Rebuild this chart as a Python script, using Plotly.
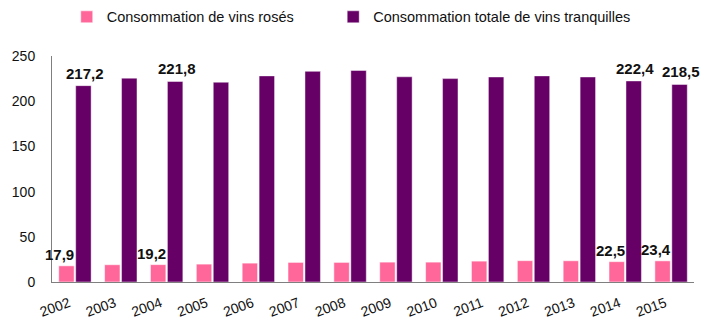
import plotly.graph_objects as go

years = ["2002", "2003", "2004", "2005", "2006", "2007", "2008",
         "2009", "2010", "2011", "2012", "2013", "2014", "2015"]
roses = [17.9, 19.1, 19.2, 19.8, 20.9, 21.7, 21.7, 22.0, 22.0, 23.1, 23.6, 23.5, 22.5, 23.4]
tranquilles = [217.2, 225.5, 221.8, 221.0, 228.0, 233.0, 234.0, 227.0, 225.0, 226.8, 228.0, 226.8, 222.4, 218.5]
labelled_years = ["2002", "2004", "2014", "2015"]
y_ticks = [0, 50, 100, 150, 200, 250]


def fmt(v):
    return f"{v:.1f}".replace(".", ",")


font_family = "Liberation Sans, Arial, sans-serif"

fig = go.Figure()
fig.add_trace(go.Bar(
    x=years, y=roses, name="Consommation de vins rosés", legend="legend",
    marker=dict(color="#FF6699", line=dict(color="rgba(255,255,255,0.55)", width=1)),
))
fig.add_trace(go.Bar(
    x=years, y=tranquilles, name="Consommation totale de vins tranquilles", legend="legend2",
    marker=dict(color="#660066", line=dict(color="rgba(255,255,255,0.45)", width=1)),
))

label_font = dict(family=font_family, size=15, color="#111111", weight="bold")
for i, (y, vr, vt) in enumerate(zip(years, roses, tranquilles)):
    if y in labelled_years:
        fig.add_annotation(x=i, y=vr, text=fmt(vr), showarrow=False, xanchor="center",
                           yanchor="bottom", xshift=-15, yshift=1, font=label_font)
        fig.add_annotation(x=i, y=vt, text=fmt(vt), showarrow=False, xanchor="center",
                           yanchor="bottom", xshift=10, yshift=2, font=label_font)

legend_common = dict(
    orientation="h", y=1.173, xanchor="left", yanchor="middle",
    font=dict(family=font_family, size=14.5, color="#111111"),
    itemwidth=30, bgcolor="rgba(0,0,0,0)",
)

fig.update_layout(
    width=714, height=319,
    margin=dict(l=44, r=28, t=48, b=45, autoexpand=False),
    paper_bgcolor="white", plot_bgcolor="white",
    barmode="group", bargap=0.26, bargroupgap=0.09,
    font=dict(family=font_family, size=14, color="#222222"),
    showlegend=True,
    legend=dict(x=0.023, **legend_common),
    legend2=dict(x=0.438, **legend_common),
    xaxis=dict(
        type="category", range=[-0.5, len(years) - 0.5], autorange=False,
        tickangle=-20, showline=True, linecolor="#7f7f7f", linewidth=1,
        showgrid=False, ticks="", tickfont=dict(size=14, color="#111111"),
        ticklabelstandoff=7, ticklabelshift=-6,
    ),
    yaxis=dict(
        range=[0, 250], autorange=False, tickvals=y_ticks, showline=True,
        linecolor="#7f7f7f", linewidth=1,
        showgrid=False, zeroline=False, ticks="", tickfont=dict(size=14, color="#111111"),
        ticklabelstandoff=13,
    ),
)

fig.write_html("out.html")
